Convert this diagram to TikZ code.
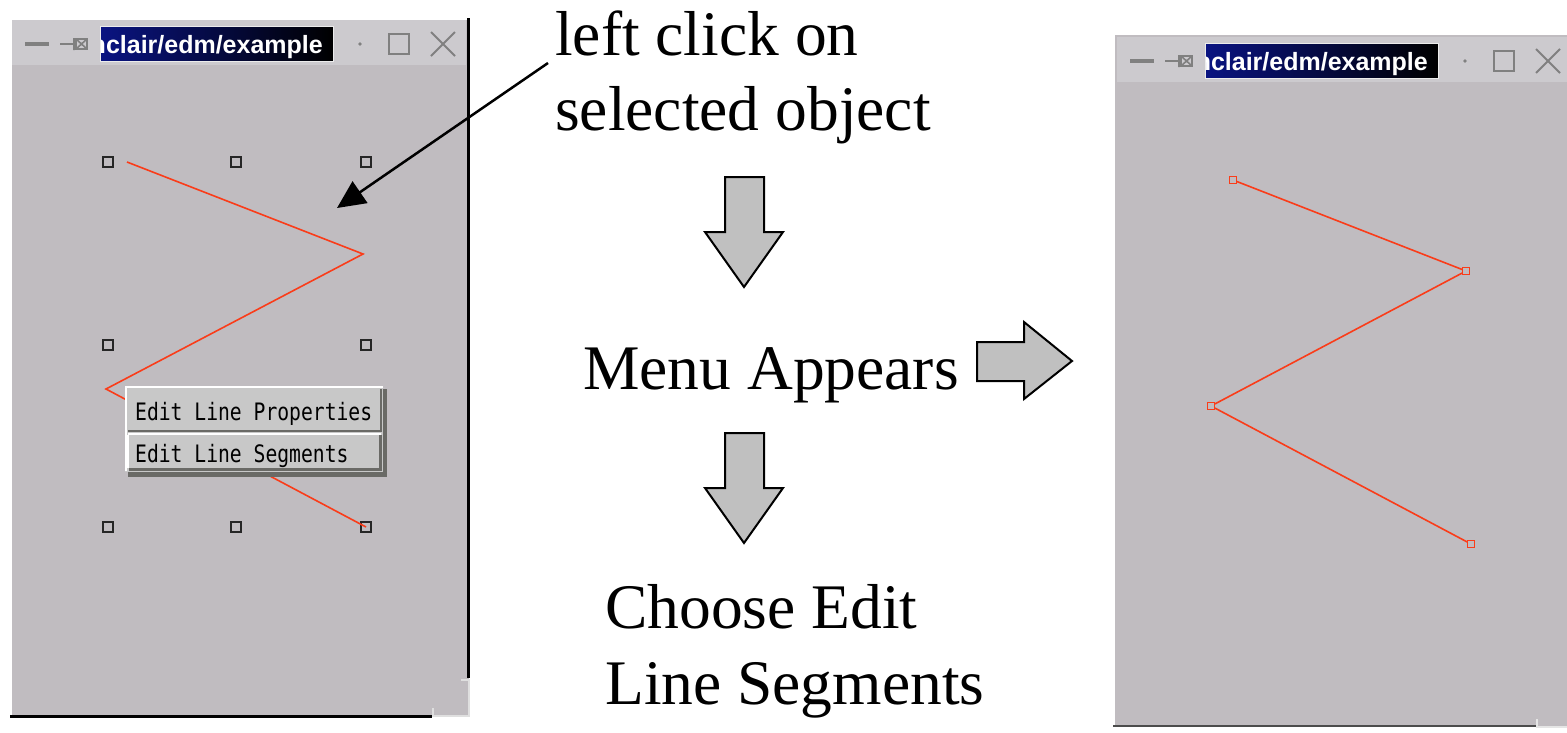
\documentclass[tikz,border=0pt]{standalone}
\usepackage{fontspec}
\setmainfont{Liberation Serif}
\newfontfamily\titlefont{Liberation Sans}
\newfontfamily\menufont[FakeStretch=0.82]{DejaVu Sans Mono}
\usetikzlibrary{arrows.meta}

\definecolor{winbg}{RGB}{192,188,192}
\definecolor{titlebg}{RGB}{204,202,206}
\definecolor{iconcol}{RGB}{128,128,128}
\definecolor{navyc}{RGB}{10,20,130}
\definecolor{edmred}{RGB}{250,60,25}
\definecolor{menubg}{RGB}{200,200,200}
\definecolor{menushadow}{RGB}{106,106,102}
\definecolor{arrowgrey}{RGB}{192,192,192}

% title bar of an edm window, drawn in window-relative coordinates
\newcommand\edmtitlebar[1]{%
  \fill[titlebg] (12,20) rectangle (466,65);
  \draw[iconcol, line width=3.5] (25,44) -- (49,44);
  \draw[iconcol, line width=2.5] (60,44) -- (74,44);
  \draw[iconcol, line width=1.6] (74,38) -- (74,50) (76,39) rectangle (87,49) (76,39) -- (87,49) (76,49) -- (87,39);
  \shade[left color=navyc, right color=black] (100,26) rectangle (333,61);
  \draw[white!85!gray, line width=1] (100,26) rectangle (333,61);
  \begin{scope}
    \clip (101,27) rectangle (332,60);
    \node[anchor=base east, inner sep=0, text=white,
          font=\titlefont\bfseries\fontsize{25}{28}\selectfont] (#1title) at (323,53) {nclair/edm/example};
  \end{scope}
  \fill[iconcol] (360,44) circle (1.8);
  \draw[iconcol, line width=2] (389,34) rectangle (409,54);
  \draw[iconcol, line width=2] (431,32) -- (455,56) (431,56) -- (455,32);
}

\begin{document}
\begin{tikzpicture}[x=1pt, y=-1pt,
  handle/.style={draw=black!85, line width=1.7, minimum size=10, inner sep=0, shape=rectangle},
  vtx/.style={draw=edmred, line width=1.4, minimum size=6.5, inner sep=0, shape=rectangle},
  redline/.style={draw=edmred, line width=1.6},
  bigarrow/.style={fill=arrowgrey, draw=black, line width=2, line join=miter},
  caption/.style={font=\fontsize{63.5}{76}\selectfont, anchor=base west, inner sep=0},
  menuitem/.style={font=\menufont\fontsize{24}{28}\selectfont, anchor=base west, inner sep=0},
]
\useasboundingbox (0,0) rectangle (1567,732);
\fill[white] (0,0) rectangle (1567,732);

% ---------------- left window ----------------
\fill[winbg] (10,18) rectangle (469,717);
\edmtitlebar{L}
\draw[white, line width=2.5] (11,716) -- (11,19) -- (467,19);
\draw[black, line width=3] (468,18) -- (468,678);
\draw[black, line width=3] (10,716) -- (432,716);
\draw[white!75!gray, line width=1.5] (461,680) -- (469,680) -- (469,716) -- (433,716) -- (433,708);

% selection handles
\foreach \nm/\px/\py in {h1/108/162, h2/236/162, h3/366/162, h4/108/345, h5/366/345,
                         h6/108/527, h7/236/527, h8/366/527}
  \node[handle] (\nm) at (\px,\py) {};

% the selected polyline
\coordinate (p1) at (127,162);
\coordinate (p2) at (363,254);
\coordinate (p3) at (106,389);
\draw[redline] (p1) -- (p2) -- (p3) -- (h8.center);

% popup menu
\fill[menushadow] (128,389) rectangle (387,477);
\fill[menubg] (125,386) rectangle (383,472);
\draw[white, line width=2] (126,471) -- (126,387) -- (383,387);
\draw[white, line width=2] (128,434) -- (381,434);
\draw[menushadow, line width=2] (128,431) -- (381,431) -- (381,389);
\draw[menushadow, line width=3] (129,469) -- (380,469) -- (380,435);
\draw[white, line width=1.5] (128,468) -- (128,435);
\node[menuitem] (m1) at (135,420) {Edit Line Properties};
\node[menuitem] (m2) at (135,462) {Edit Line Segments};

% ---------------- captions ----------------
\node[caption] (c1) at (555,55) {left click on};
\node[caption] (c2) at (555,130) {selected object};
\node[caption] (c3) at (583,389) {Menu Appears};
\node[caption] (c4) at (605,628) {Choose Edit};
\node[caption] (c5) at (605,704) {Line Segments};

% pointer to the selected object
\coordinate (ptail) at (548,63);
\coordinate (ptip) at (337,208);
\draw[line width=2.5, -{Triangle[length=28, width=26]}] (ptail) -- (ptip);

% block arrows
\draw[bigarrow] (725,177) -- (764,177) -- (764,232) -- (783,232) -- (744,287)
  -- (705,232) -- (725,232) -- cycle;
\draw[bigarrow] (725,433) -- (764,433) -- (764,488) -- (783,488) -- (744,543)
  -- (705,488) -- (725,488) -- cycle;
\draw[bigarrow] (977,342) -- (1024,342) -- (1024,322) -- (1072,361) -- (1024,399)
  -- (1024,381) -- (977,381) -- cycle;

% ---------------- right window ----------------
\fill[winbg] (1113,33) rectangle (1570,727);
\begin{scope}[shift={(1105,17)}]
  \edmtitlebar{R}
\end{scope}
\draw[white, line width=2.5] (1114,726) -- (1114,34) -- (1570,34);
\draw[black!70, line width=2.5] (1113,726) -- (1537,726);
\draw[white!80!gray, line width=1.5] (1537,719) -- (1537,727) -- (1570,727);

% the polyline with its vertices exposed
\node[vtx] (v1) at (1233,180) {};
\node[vtx] (v2) at (1466,271) {};
\node[vtx] (v3) at (1211,406) {};
\node[vtx] (v4) at (1471,544) {};
\draw[redline] (v1) -- (v2) -- (v3) -- (v4);
\end{tikzpicture}
\end{document}
